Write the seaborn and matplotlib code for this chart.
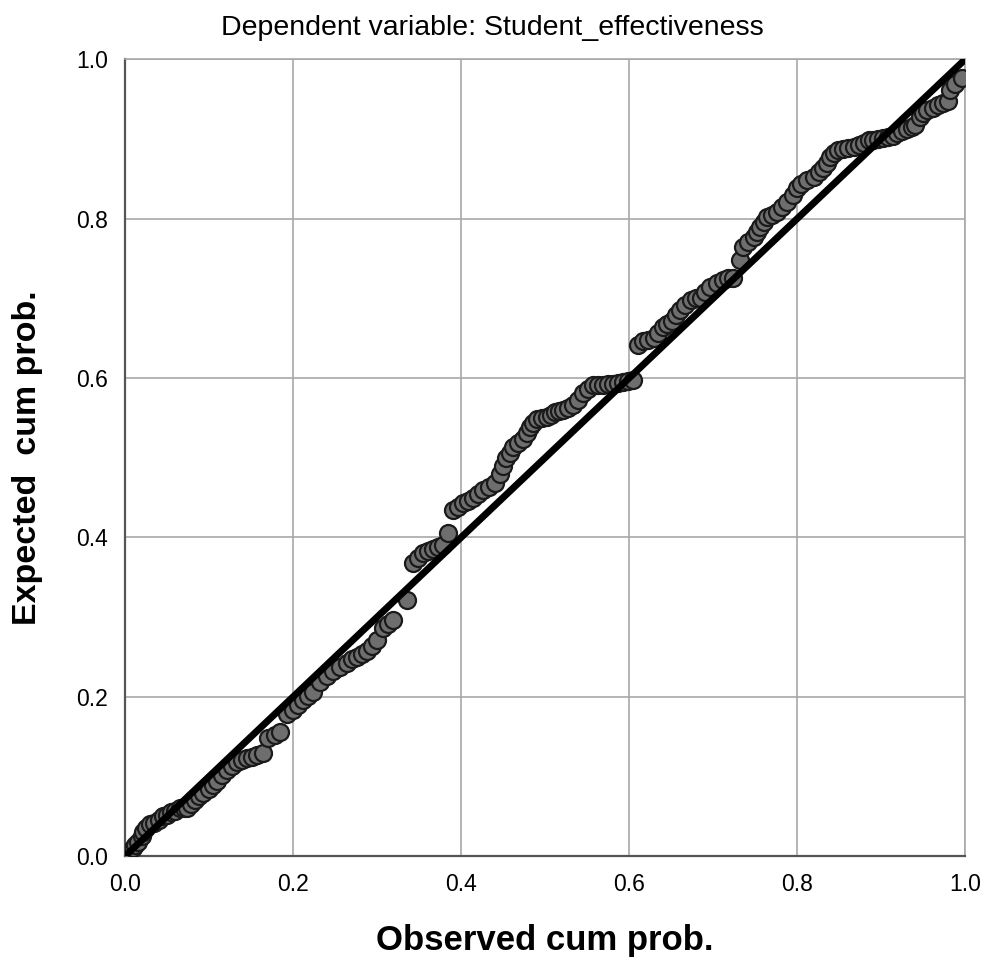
import matplotlib
matplotlib.use("Agg")
import matplotlib.pyplot as plt
import seaborn as sns
import pandas as pd

# P-P plot data
observed = [0.005, 0.01, 0.012, 0.015, 0.02, 0.022, 0.025, 0.03, 0.035, 0.04, 0.045, 0.05,
            0.055, 0.06, 0.065, 0.07, 0.074, 0.078, 0.083, 0.088, 0.093, 0.10, 0.105, 0.11,
            0.116, 0.121, 0.127, 0.133, 0.139, 0.145, 0.151, 0.157, 0.164, 0.170, 0.178, 0.185,
            0.193, 0.200, 0.206, 0.212, 0.218, 0.224, 0.232, 0.240, 0.248, 0.256, 0.264, 0.270,
            0.276, 0.282, 0.288, 0.294, 0.300, 0.307, 0.313, 0.319, 0.336, 0.343, 0.349, 0.355,
            0.361, 0.367, 0.373, 0.379, 0.385, 0.390, 0.396, 0.402, 0.408, 0.414, 0.420, 0.426,
            0.433, 0.440, 0.446, 0.450, 0.454, 0.458, 0.462, 0.468, 0.474, 0.478, 0.482, 0.486,
            0.490, 0.496, 0.502, 0.507, 0.512, 0.516, 0.521, 0.527, 0.533, 0.539, 0.545, 0.551,
            0.557, 0.563, 0.569, 0.575, 0.581, 0.587, 0.593, 0.599, 0.605, 0.610, 0.617, 0.623,
            0.629, 0.634, 0.640, 0.645, 0.651, 0.656, 0.661, 0.667, 0.673, 0.679, 0.685, 0.690,
            0.696, 0.704, 0.712, 0.718, 0.724, 0.732, 0.736, 0.742, 0.748, 0.752, 0.756, 0.760,
            0.764, 0.770, 0.776, 0.782, 0.788, 0.795, 0.800, 0.804, 0.812, 0.820, 0.826, 0.831,
            0.835, 0.839, 0.844, 0.849, 0.855, 0.861, 0.867, 0.873, 0.879, 0.885, 0.890, 0.896,
            0.902, 0.908, 0.914, 0.919, 0.925, 0.931, 0.936, 0.940, 0.946, 0.950, 0.955, 0.961,
            0.967, 0.973, 0.979, 0.982, 0.988, 0.996]
expected = [0.005, 0.01, 0.014, 0.018, 0.025, 0.03, 0.035, 0.04, 0.042, 0.045, 0.05, 0.052,
            0.055, 0.057, 0.06, 0.06, 0.061, 0.066, 0.07, 0.075, 0.079, 0.085, 0.09, 0.095,
            0.102, 0.108, 0.113, 0.118, 0.121, 0.123, 0.125, 0.127, 0.130, 0.148, 0.152, 0.156,
            0.179, 0.183, 0.190, 0.196, 0.201, 0.206, 0.218, 0.226, 0.233, 0.238, 0.243, 0.247,
            0.250, 0.254, 0.258, 0.264, 0.271, 0.286, 0.291, 0.296, 0.321, 0.368, 0.374, 0.380,
            0.383, 0.386, 0.388, 0.390, 0.405, 0.434, 0.438, 0.443, 0.446, 0.450, 0.455, 0.459,
            0.463, 0.468, 0.480, 0.490, 0.500, 0.506, 0.513, 0.518, 0.524, 0.531, 0.538, 0.544,
            0.549, 0.550, 0.551, 0.554, 0.557, 0.558, 0.560, 0.563, 0.566, 0.573, 0.581, 0.586,
            0.591, 0.591, 0.591, 0.592, 0.593, 0.594, 0.595, 0.596, 0.597, 0.641, 0.647, 0.648,
            0.650, 0.657, 0.664, 0.668, 0.672, 0.679, 0.685, 0.691, 0.698, 0.700, 0.701, 0.708,
            0.714, 0.719, 0.723, 0.725, 0.726, 0.748, 0.764, 0.771, 0.777, 0.783, 0.789, 0.796,
            0.802, 0.805, 0.808, 0.815, 0.821, 0.829, 0.839, 0.844, 0.848, 0.852, 0.858, 0.863,
            0.870, 0.877, 0.882, 0.886, 0.887, 0.888, 0.890, 0.892, 0.895, 0.898, 0.899, 0.900,
            0.901, 0.902, 0.904, 0.907, 0.910, 0.913, 0.915, 0.917, 0.927, 0.932, 0.936, 0.939,
            0.942, 0.945, 0.948, 0.961, 0.969, 0.977]
ticks = [0.0, 0.2, 0.4, 0.6, 0.8, 1.0]
tick_labels = ["0.0", "0.2", "0.4", "0.6", "0.8", "1.0"]

df = pd.DataFrame({"Observed": observed, "Expected": expected})

sns.set_theme(style="white")
plt.rcParams["font.family"] = ["Liberation Sans", "DejaVu Sans"]
plt.rcParams["text.color"] = "black"
plt.rcParams["axes.labelcolor"] = "black"

fig = plt.figure(figsize=(9.84, 9.61), dpi=100)
ax = fig.add_axes([0.127, 0.109, 0.854, 0.8294])

ax.grid(True, color="#a8a8a8", linewidth=1.2)
ax.set_axisbelow(True)

sns.scatterplot(data=df, x="Observed", y="Expected", ax=ax, s=150,
                color="#6e6e6e", edgecolor="#1a1a1a", linewidth=1.6, zorder=3)
ax.plot([0, 1], [0, 1], color="black", linewidth=5, zorder=4, solid_capstyle="butt")

ax.set_xlim(0, 1)
ax.set_ylim(0, 1)
ax.set_xticks(ticks)
ax.set_xticklabels(tick_labels)
ax.set_yticks(ticks)
ax.set_yticklabels(tick_labels)
ax.tick_params(labelsize=16.5, colors="black", pad=6)

for side in ["left", "bottom"]:
    ax.spines[side].set_color("#555555")
    ax.spines[side].set_linewidth(1.6)
for side in ["top", "right"]:
    ax.spines[side].set_color("#a8a8a8")
    ax.spines[side].set_linewidth(1.2)

ax.set_xlabel("Observed cum prob.", fontsize=25, fontweight="bold", labelpad=20)
ax.set_ylabel("Expected  cum prob.", fontsize=24.5, fontweight="bold", labelpad=24)
# title is centred on the whole figure, not on the axes
fig.suptitle("Dependent variable: Student_effectiveness", fontsize=20.5,
             x=0.5, y=0.971, va="center")

fig.savefig("out.png", dpi=100)
